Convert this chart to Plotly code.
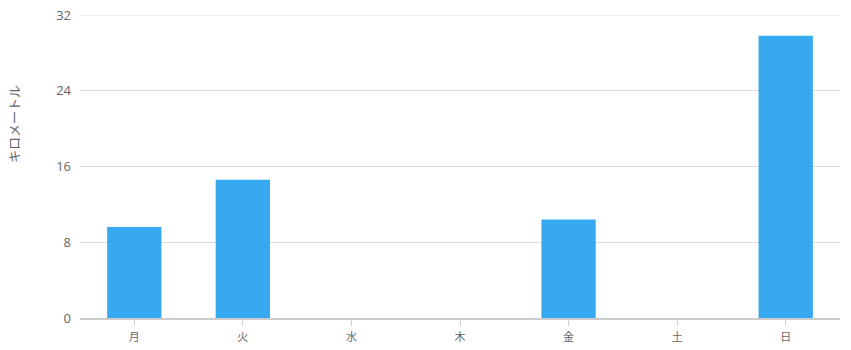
import plotly.graph_objects as go

days = ["月", "火", "水", "木", "金", "土", "日"]
distance_km = [9.6, 14.6, 0, 0, 10.4, 0, 29.8]
y_ticks = [0, 8, 16, 24, 32]
y_title = "キロメートル"

fig = go.Figure()
fig.add_trace(go.Bar(
    x=days, y=distance_km,
    marker=dict(color="#36a9f1", line=dict(width=0)),
    hoverinfo="x+y",
))

fig.update_layout(
    width=851, height=350,
    margin=dict(l=80, r=11, t=15, b=32, autoexpand=False),
    paper_bgcolor="white", plot_bgcolor="white",
    bargap=0.5,
    showlegend=False,
    font=dict(family="Open Sans, Noto Sans CJK JP, sans-serif", color="#666666"),
    xaxis=dict(
        automargin=False,
        showgrid=False,
        showline=True, linecolor="#cccccc", linewidth=2,
        ticks="outside", ticklen=6, tickcolor="#d0d0d0", tickwidth=1,
        ticklabelstandoff=2,
        tickfont=dict(size=11, color="#666666"),
    ),
    yaxis=dict(
        automargin=False,
        range=[0, max(y_ticks)], tickvals=y_ticks,
        showgrid=True, gridcolor="#dadada", gridwidth=1,
        zeroline=False, showline=False,
        ticks="", ticklabelstandoff=8,
        tickfont=dict(size=13, color="#666666"),
    ),
    shapes=[dict(
        type="line", xref="paper", yref="y",
        x0=0, x1=1, y0=max(y_ticks), y1=max(y_ticks),
        line=dict(color="#dadada", width=1),
        layer="below",
    )],
    annotations=[dict(
        text=y_title, textangle=-90,
        xref="paper", yref="paper",
        x=-0.087, y=0.64,
        xanchor="center", yanchor="middle",
        showarrow=False,
        font=dict(size=13, color="#666666"),
    )],
)

fig.write_html("out.html")
